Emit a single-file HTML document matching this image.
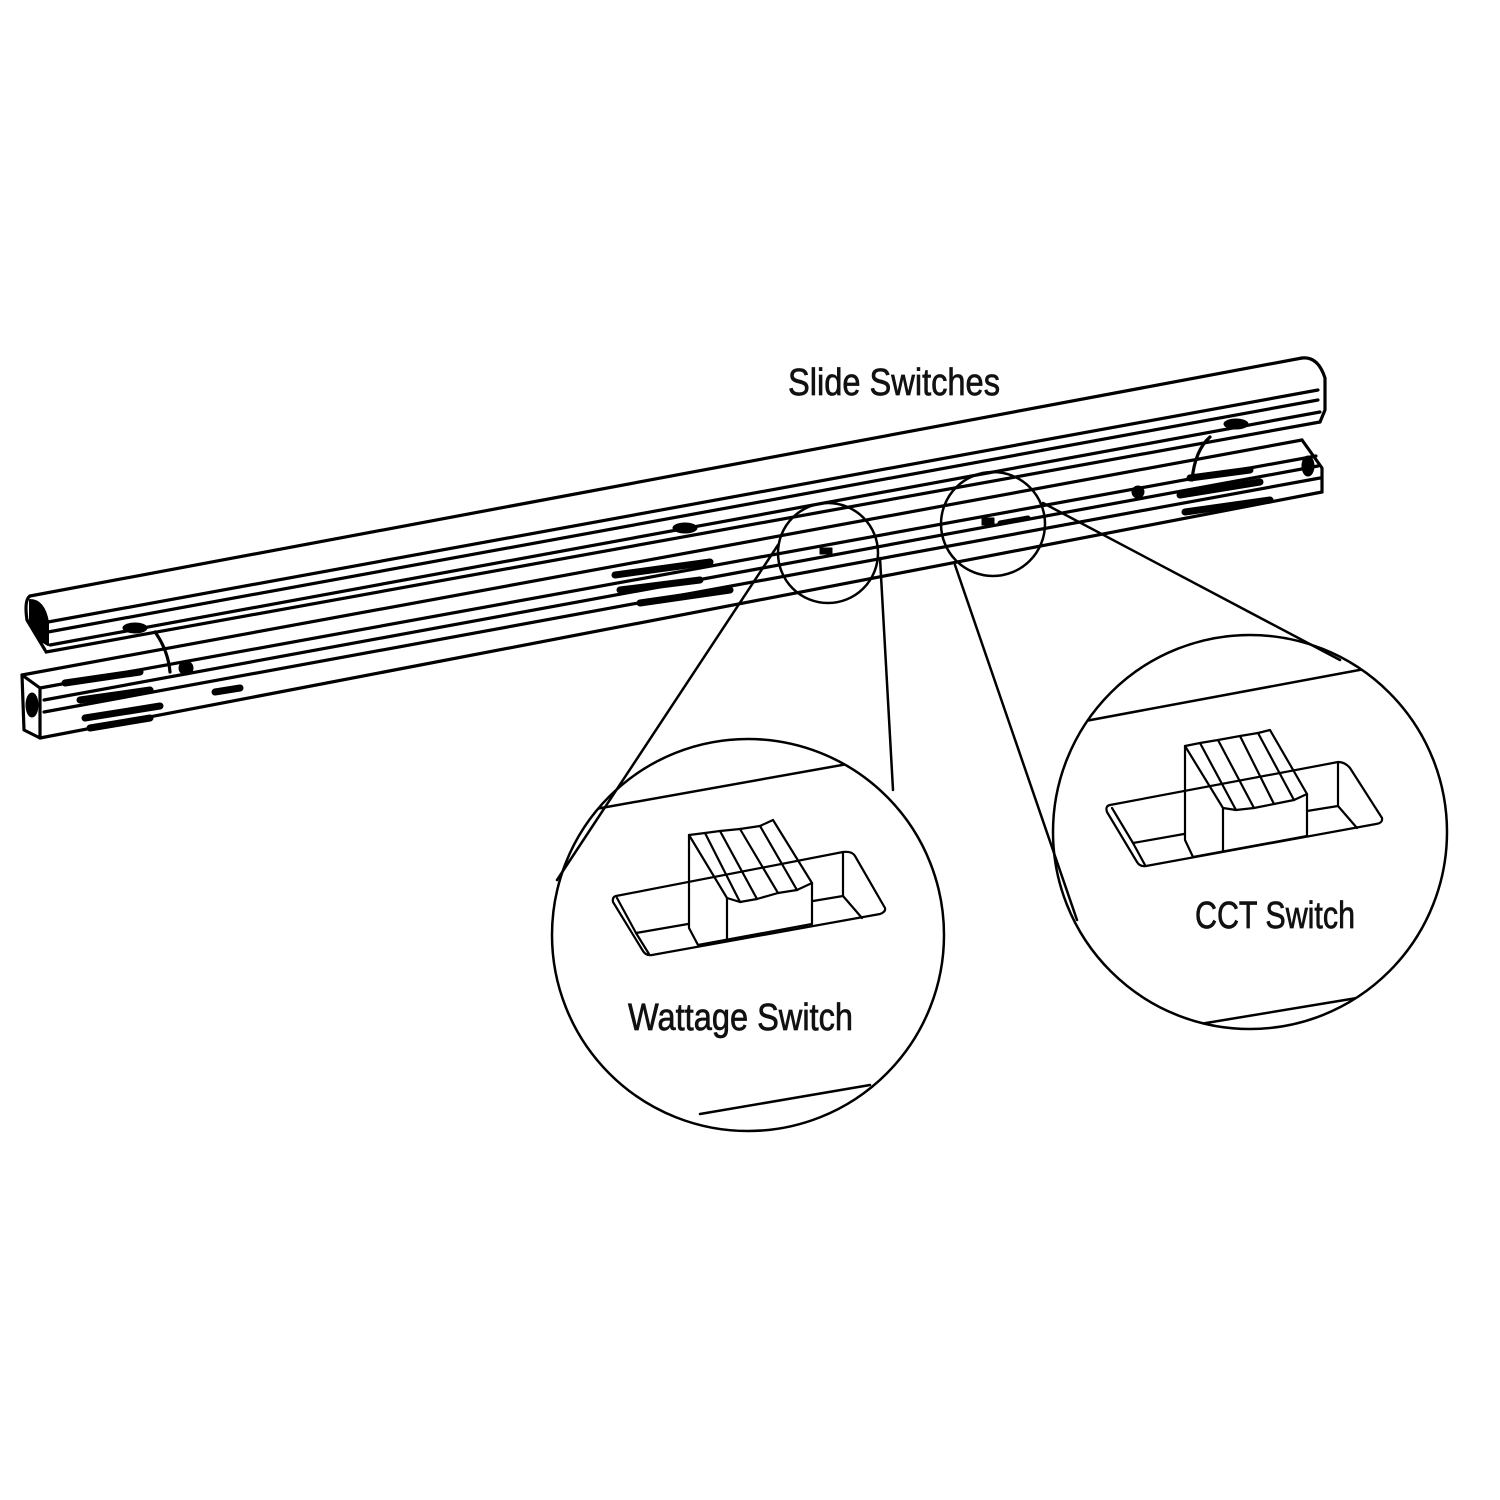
<!DOCTYPE html>
<html><head><meta charset="utf-8"><style>
html,body{margin:0;padding:0;background:#fff;}
svg{display:block}
text{font-family:"Liberation Sans Narrow","Liberation Sans",sans-serif;fill:#111;stroke:#111;stroke-width:0.7px;}
</style></head><body>
<svg width="1500" height="1500" viewBox="0 0 1500 1500" xmlns="http://www.w3.org/2000/svg">
<defs>
<clipPath id="c1"><circle cx="748" cy="935" r="196"/></clipPath>
<clipPath id="c2"><circle cx="1250" cy="832" r="197"/></clipPath>
</defs>
<rect width="1500" height="1500" fill="#fff"/>
<g stroke="#000" fill="none" stroke-linecap="round" stroke-linejoin="round">
<!-- cover -->
<g stroke-width="3.2">
<path d="M30 596 L1302 358"/>
<path d="M48 622 L1318 390"/>
<path d="M48 632 L1318 400"/>
<path d="M50 645 L1320 412"/>
<path d="M46 652 L1320 422"/>
<path d="M30 596 Q24 600 27 620 L45 650"/>
<path d="M1302 358 Q1318 356 1325 378 L1325 410 L1320 422"/>
</g>
<path d="M30 600 Q44 600 48 622 L48 645 L40 640 Q32 630 30 620 Z" fill="#000" stroke-width="2"/>
<!-- channel -->
<g stroke-width="3.2">
<path d="M22 675 L1302 440"/>
<path d="M40 688 L1316 456"/>
<path d="M44 700 L1318 466"/>
<path d="M44 712 L1320 478"/>
<path d="M40 738 L1322 492"/>
<path d="M22 675 L40 688 L40 738 L24 730 Z"/>
<path d="M1302 440 L1322 468 L1322 492"/>
<path d="M155 632 Q168 650 170 672"/>
<path d="M1210 437 Q1195 450 1192 480"/>
</g>
<ellipse cx="32" cy="705" rx="6" ry="12" fill="#000"/>
<ellipse cx="1308" cy="466" rx="6" ry="10" fill="#000"/>
<!-- smudges -->
<g stroke-width="7">
<path d="M65 683 L140 672"/><path d="M80 700 L150 690"/><path d="M85 718 L160 706"/>
<path d="M90 728 L150 718"/><path d="M215 692 L240 688"/>
<path d="M615 575 L710 562"/><path d="M620 590 L700 580"/><path d="M640 603 L730 590"/>
<path d="M1180 495 L1260 482"/><path d="M1185 512 L1270 500"/><path d="M1190 478 L1250 470"/>
</g>
<ellipse cx="186" cy="668" rx="7" ry="7" fill="#000"/>
<ellipse cx="1138" cy="492" rx="6" ry="6" fill="#000"/>
<ellipse cx="135" cy="628" rx="12" ry="5" fill="#000"/>
<ellipse cx="685" cy="528" rx="12" ry="5" fill="#000"/>
<ellipse cx="1236" cy="424" rx="12" ry="5" fill="#000"/>
<rect x="820" y="548" width="12" height="6" fill="#000"/>
<rect x="982" y="518" width="12" height="7" fill="#000"/>
<path d="M1000 523 L1028 518" stroke-width="5"/>
<!-- small circles + connectors -->
<g stroke-width="2.5">
<circle cx="828" cy="553" r="50"/>
<circle cx="993" cy="524" r="52"/>
<path d="M778 545 L557 880"/>
<path d="M880 558 L893 790"/>
<path d="M955 565 L1077 920"/>
<path d="M1043 503 L1340 660"/>
</g>
<!-- big circles -->
<g stroke-width="2.5">
<circle cx="748" cy="935" r="196"/>
<circle cx="1250" cy="832" r="197"/>
<g clip-path="url(#c1)">
<path d="M590 810 L870 760"/>
<path d="M700 1114 L870 1085"/>
</g>
<g clip-path="url(#c2)">
<path d="M1080 722 L1370 668"/>
<path d="M1200 1024 L1375 995"/>
</g>
</g>
<!-- wattage switch -->
<g stroke-width="2.2">
<path d="M616 896 L843 852 Q852 851 855 856 L885 908 Q886 912 880 914 L652 955 Q646 956 643 951 L613 902 Q612 897 616 896 Z"/>
<path d="M617 898 L636 933 L688 924"/>
<path d="M843 852 L843 896 L813 901"/>
<path d="M843 896 L862 918"/>
<path d="M636 933 L649 954"/>
<path d="M689 835 L689 928 L698 945 L812 924 L812 883"/>
<path d="M727 898 L727 940"/>
<path d="M689 835 L705 833 L740 902 L727 898 L689 835"/>
<path d="M705 833 L720 831 L757 899"/>
<path d="M720 831 L740 829 L778 893"/>
<path d="M740 829 L760 826 L797 890"/>
<path d="M760 826 L773 820 L812 883 L797 890"/>
<path d="M740 902 L757 899 L778 893 L797 890"/>
</g>
<!-- CCT switch -->
<g stroke-width="2.2">
<path d="M1110 805 L1338 762 Q1345 762 1350 768 L1382 818 Q1383 823 1376 824 L1146 866 Q1140 867 1137 862 L1107 812 Q1105 806 1110 805 Z"/>
<path d="M1112 808 L1133 843 L1184 834"/>
<path d="M1338 762 L1338 806 L1307 811"/>
<path d="M1338 806 L1357 828"/>
<path d="M1133 843 L1145 865"/>
<path d="M1185 746 L1185 840 L1193 857 L1307 836 L1307 794"/>
<path d="M1223 808 L1223 851"/>
<path d="M1185 746 L1200 743 L1236 810 L1223 808 L1185 746"/>
<path d="M1200 743 L1218 740 L1254 808"/>
<path d="M1218 740 L1240 736 L1274 804"/>
<path d="M1240 736 L1258 733 L1294 800"/>
<path d="M1258 733 L1270 730 L1307 794 L1294 800"/>
<path d="M1236 810 L1254 808 L1274 804 L1294 800"/>
</g>
</g>
<text x="788" y="395" font-size="38" textLength="212" lengthAdjust="spacingAndGlyphs">Slide Switches</text>
<text x="628" y="1030" font-size="38" textLength="225" lengthAdjust="spacingAndGlyphs">Wattage Switch</text>
<text x="1195" y="928" font-size="38" textLength="160" lengthAdjust="spacingAndGlyphs">CCT Switch</text>
</svg>
</body></html>
